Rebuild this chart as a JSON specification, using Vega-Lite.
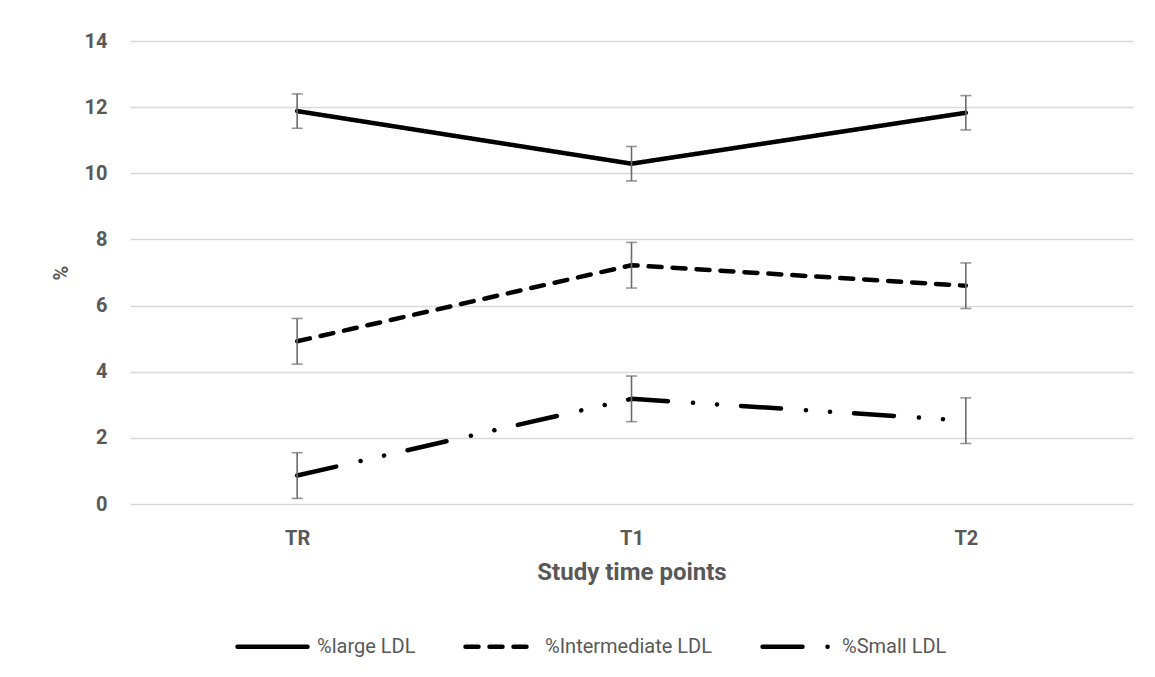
{
  "$schema": "https://vega.github.io/schema/vega-lite/v6.json",
  "autosize": "none",
  "width": 1003,
  "height": 463,
  "padding": {"left": 130, "top": 41, "right": 22, "bottom": 173},
  "background": "white",
  "config": {
    "view": {"stroke": null},
    "font": "Roboto",
    "axis": {"labelColor": "#595959", "titleColor": "#595959", "labelFont": "Roboto", "titleFont": "Roboto"}
  },
  "data": {
    "values": [
      {"time": "TR", "series": "%large LDL", "mean": 11.88, "lo": 11.36, "hi": 12.40},
      {"time": "T1", "series": "%large LDL", "mean": 10.29, "lo": 9.77, "hi": 10.81},
      {"time": "T2", "series": "%large LDL", "mean": 11.83, "lo": 11.31, "hi": 12.35},
      {"time": "TR", "series": "%Intermediate LDL", "mean": 4.92, "lo": 4.23, "hi": 5.61},
      {"time": "T1", "series": "%Intermediate LDL", "mean": 7.22, "lo": 6.53, "hi": 7.91},
      {"time": "T2", "series": "%Intermediate LDL", "mean": 6.60, "lo": 5.91, "hi": 7.29},
      {"time": "TR", "series": "%Small LDL", "mean": 0.86, "lo": 0.17, "hi": 1.55},
      {"time": "T1", "series": "%Small LDL", "mean": 3.18, "lo": 2.49, "hi": 3.87},
      {"time": "T2", "series": "%Small LDL", "mean": 2.52, "lo": 1.83, "hi": 3.21}
    ]
  },
  "encoding": {
    "x": {
      "field": "time",
      "type": "nominal",
      "sort": ["TR", "T1", "T2"],
      "scale": {"type": "point", "padding": 0.5},
      "axis": {
        "title": "Study time points",
        "labelAngle": 0,
        "domain": false,
        "ticks": false,
        "grid": false,
        "labelFontSize": 20,
        "labelFontWeight": "bold",
        "labelPadding": 24,
        "titleFontSize": 24,
        "titleFontWeight": "bold",
        "titlePadding": 12
      }
    }
  },
  "layer": [
    {
      "mark": {"type": "line", "color": "black", "strokeWidth": 4.5, "strokeCap": "round", "strokeJoin": "round"},
      "encoding": {
        "y": {
          "field": "mean",
          "type": "quantitative",
          "scale": {"domain": [0, 14], "nice": false},
          "axis": {
            "title": "%",
            "values": [0, 2, 4, 6, 8, 10, 12, 14],
            "domain": false,
            "ticks": false,
            "grid": true,
            "gridColor": "#d9d9d9",
            "gridWidth": 1.5,
            "labelFontSize": 20,
            "labelFontWeight": "bold",
            "labelPadding": 23,
            "titleFontSize": 20,
            "titleFontWeight": "bold",
            "titlePadding": 13
          }
        },
        "strokeDash": {
          "field": "series",
          "type": "nominal",
          "scale": {
            "domain": ["%large LDL", "%Intermediate LDL", "%Small LDL"],
            "range": [[1, 0], [13, 11], [40, 25, 0.1, 24, 0.1, 24]]
          },
          "legend": {
            "title": null,
            "orient": "none",
            "direction": "horizontal",
            "legendX": 105,
            "legendY": 568,
            "symbolType": "stroke",
            "symbolSize": 4900,
            "symbolStrokeWidth": 4.5,
            "symbolStrokeColor": "black",
            "labelFont": "Roboto",
            "labelFontSize": 20,
            "labelColor": "#595959",
            "labelOffset": 7,
            "columnPadding": 40,
            "labelLimit": 400,
            "encode": {"symbols": {"update": {"strokeCap": {"value": "round"}}}}
          }
        }
      }
    },
    {
      "mark": {"type": "rule", "color": "#6b6b6b", "strokeWidth": 1.6},
      "encoding": {
        "y": {"field": "lo", "type": "quantitative"},
        "y2": {"field": "hi"}
      }
    },
    {
      "mark": {"type": "tick", "color": "#6b6b6b", "size": 11, "thickness": 1.6},
      "encoding": {"y": {"field": "lo", "type": "quantitative"}}
    },
    {
      "mark": {"type": "tick", "color": "#6b6b6b", "size": 11, "thickness": 1.6},
      "encoding": {"y": {"field": "hi", "type": "quantitative"}}
    }
  ]
}
